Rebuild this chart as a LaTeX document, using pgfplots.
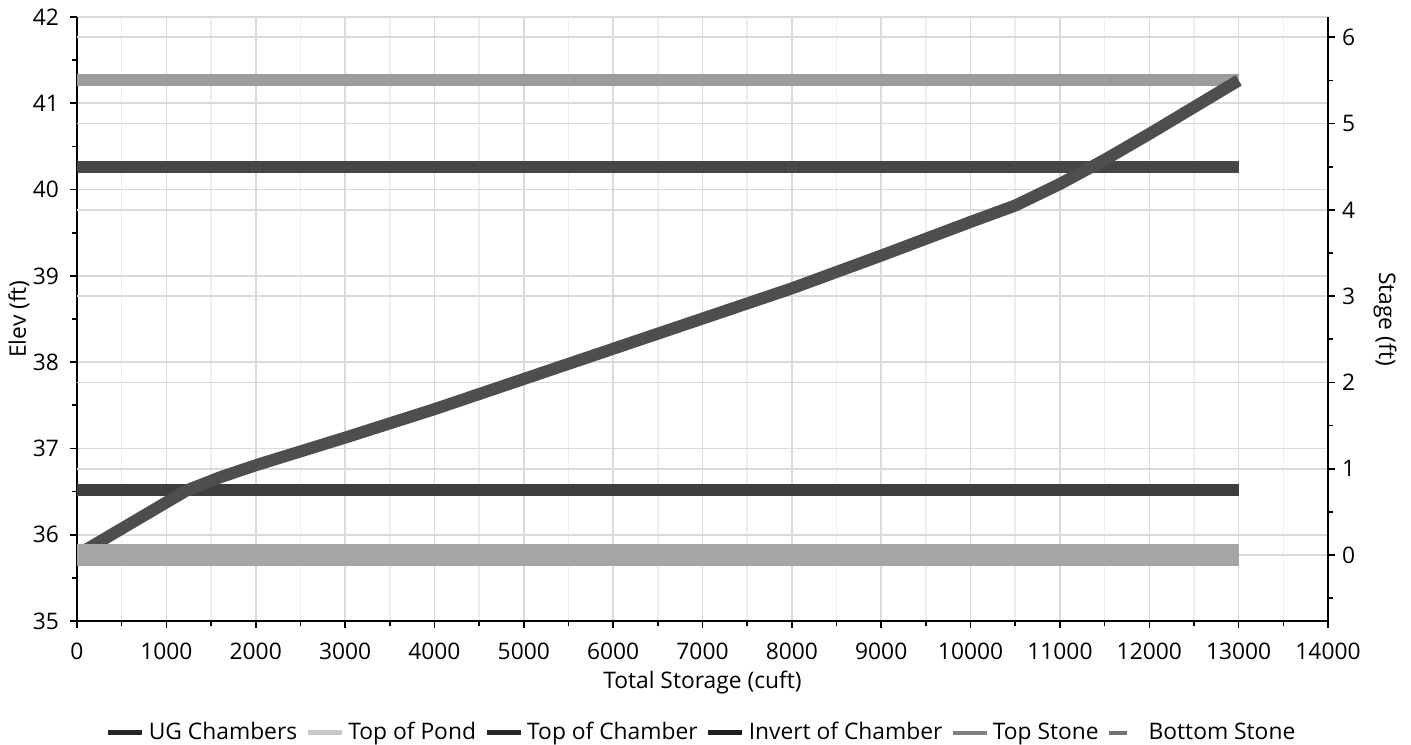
\documentclass[border=0pt]{standalone}
\usepackage{fontspec}
\setmainfont{Open Sans}
\usepackage{pgfplots}
\pgfplotsset{compat=1.18}
\definecolor{ugc}{HTML}{4E4E4E}
\definecolor{pond}{HTML}{C4C4C4}
\definecolor{tstone}{HTML}{9C9C9C}
\definecolor{tchamb}{HTML}{464646}
\definecolor{inv}{HTML}{3E3E3E}
\definecolor{bstone}{HTML}{A6A6A6}
\definecolor{gridc}{HTML}{DADADA}
\definecolor{gridm}{HTML}{EDEDED}
\begin{document}
\begin{tikzpicture}
\path[use as bounding box] (-38.5pt,-61.5pt) rectangle (667pt,310.5pt);
\pgfplotsset{
  common/.style={
    at={(0,0)}, anchor=south west, scale only axis,
    width=625.5pt, height=302pt,
    xmin=0, xmax=14000,
    tick align=outside,
    major tick length=3.5pt, minor tick length=2.5pt,
    tick style={black, line width=0.8pt},
    axis line style={black, line width=0.9pt, -},
    major grid style={gridc, line width=0.8pt},
    minor grid style={gridm, line width=0.8pt},
    tick label style={font=\fontsize{11.4}{13.5}\selectfont},
    label style={font=\fontsize{11.4}{13.5}\selectfont},
    /pgf/number format/assume math mode=true,
  }
}
\begin{axis}[common,
  ymin=35, ymax=42,
  axis x line*=bottom, axis y line*=left,
  xtick distance=1000, minor x tick num=1,
  ytick distance=1, minor y tick num=1,
  xmajorgrids, xminorgrids, ymajorgrids,
  scaled x ticks=false,
  xticklabel style={/pgf/number format/1000 sep={}, yshift=-4pt},
  yticklabel style={xshift=-2pt},
  xlabel={Total Storage (cuft)},
  xlabel style={at={(axis description cs:0.5,-0.1026)}, anchor=center},
  ylabel={Elev (ft)},
  ylabel style={at={(axis description cs:-0.0464,0.5)}, anchor=center},
]
\end{axis}
\begin{axis}[common,
  ymin=-0.765, ymax=6.235,
  axis x line=none, axis y line*=right,
  ytick distance=1, minor y tick num=1,
  ymajorgrids,
  ylabel={Stage (ft)},
  ylabel style={at={(axis description cs:1.0456,0.5)}, anchor=center, rotate=180},
  legend columns=6,
  legend style={at={(0.5,-0.185)}, anchor=center, draw=none, fill=none,
    font=\fontsize{11.4}{13.5}\selectfont,
    /tikz/every even column/.append style={column sep=2pt}},
  legend image code/.code={\draw[#1] (0pt,0pt) -- (17pt,0pt);},
]
% draw order
\addplot[forget plot, pond, line width=6pt] coordinates {(0,5.5) (13000,5.5)};
\addplot[forget plot, tstone, line width=6pt] coordinates {(0,5.5) (13000,5.5)};
\addplot[forget plot, tchamb, line width=6pt] coordinates {(0,4.5) (13000,4.5)};
\addplot[forget plot, inv, line width=6pt] coordinates {(0,0.75) (13000,0.75)};
\addplot[forget plot, ugc, line width=6pt, line join=round] coordinates {
(0,0) (1230,0.75) (1600,0.90) (2000,1.04) (3000,1.36) (4000,1.69) (5000,2.04) (6000,2.39)
(7000,2.74) (8000,3.09) (9000,3.47) (10000,3.86) (10500,4.05) (11000,4.30)
(11500,4.58) (12000,4.88) (12500,5.19) (13000,5.50)};
\addplot[forget plot, bstone, line width=11pt] coordinates {(0,0) (13000,0)};
% legend
\addlegendimage{line width=2.6pt, draw=black!85}
\addlegendentry{UG Chambers}
\addlegendimage{line width=2.6pt, draw=black!22}
\addlegendentry{Top of Pond}
\addlegendimage{line width=2.6pt, draw=black!85}
\addlegendentry{Top of Chamber}
\addlegendimage{line width=2.6pt, draw=black!88}
\addlegendentry{Invert of Chamber}
\addlegendimage{line width=2.2pt, draw=black!50}
\addlegendentry{Top Stone}
\addlegendimage{line width=2pt, draw=black!55, dash pattern=on 9pt off 8pt}
\addlegendentry{Bottom Stone}
\end{axis}
\end{tikzpicture}
\end{document}
